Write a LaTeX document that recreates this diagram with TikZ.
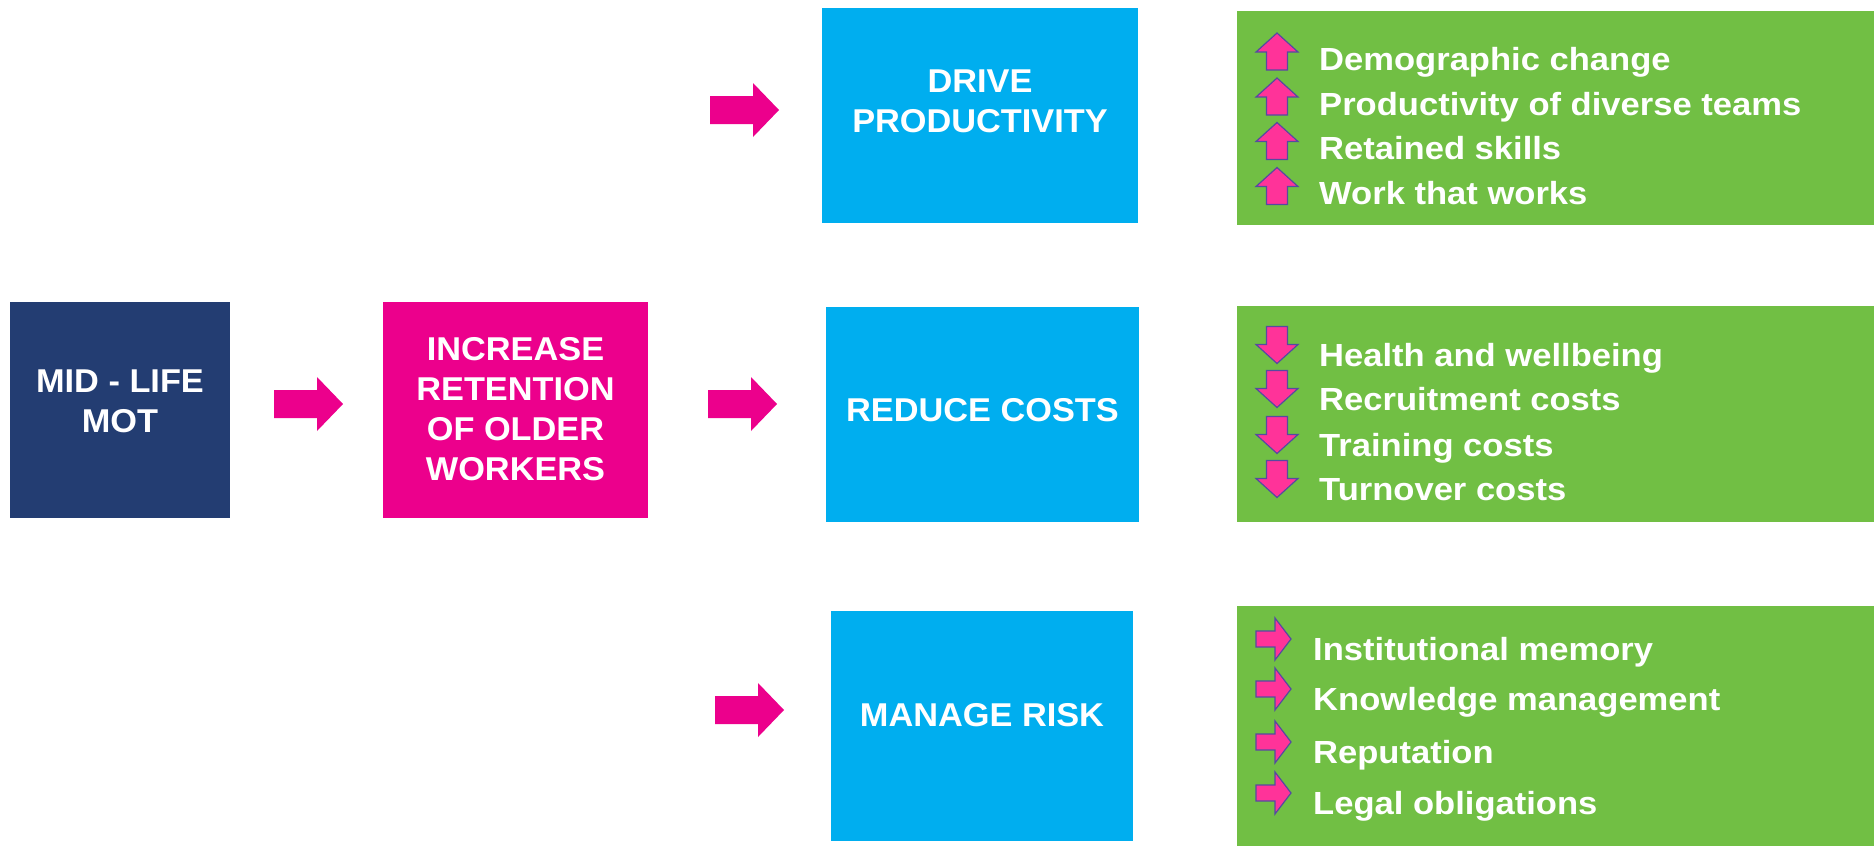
\documentclass[tikz,border=0pt]{standalone}
\usepackage{fontspec}
\setmainfont{Liberation Sans}
\newfontfamily\boxfont{Liberation Sans}[FakeStretch=1.04]
\newfontfamily\listfont{Liberation Sans}[FakeStretch=1.08]
\definecolor{navy}{RGB}{35,61,114}
\definecolor{magenta}{RGB}{236,0,140}
\definecolor{cyanbox}{RGB}{0,174,239}
\definecolor{leaf}{RGB}{113,191,68}
\definecolor{hotpink}{RGB}{255,51,153}
\definecolor{arrowedge}{RGB}{85,75,160}
\tikzset{
  box/.style={rectangle, inner sep=0pt, outer sep=0pt, draw=none},
  boxtext/.style={text=white, align=center, font=\boxfont\bfseries\fontsize{33}{40}\selectfont},
  listtext/.style={text=white, anchor=base west, inner sep=0pt, font=\listfont\bfseries\fontsize{32}{38}\selectfont},
  bigarrow/.style={fill=magenta, draw=none},
  smallarrow/.style={fill=hotpink, draw=arrowedge, line width=1.2pt, line join=miter},
  bigarr/.pic={\path[bigarrow] (0,-14) -- (43,-14) -- (43,-27) -- (69,0) -- (43,27) -- (43,14) -- (0,14) -- cycle;},
  uparr/.pic={\path[smallarrow] (0,-18.5) -- (21,0.5) -- (10.5,0.5) -- (10.5,18.5) -- (-10.5,18.5) -- (-10.5,0.5) -- (-21,0.5) -- cycle;},
  downarr/.pic={\path[smallarrow] (0,18.5) -- (21,-0.5) -- (10.5,-0.5) -- (10.5,-18.5) -- (-10.5,-18.5) -- (-10.5,-0.5) -- (-21,-0.5) -- cycle;},
  rightarr/.pic={\path[smallarrow] (-17.5,-8) -- (1.5,-8) -- (1.5,-21) -- (17.5,0) -- (1.5,21) -- (1.5,8) -- (-17.5,8) -- cycle;},
}
\begin{document}
\begin{tikzpicture}[x=1pt,y=-1pt]
\useasboundingbox[fill=white] (0,0) rectangle (1874,846);

% main chain boxes
\node[box, fill=navy, minimum width=220pt, minimum height=216pt] (mot) at (120,409.5) {};
\node[box, fill=magenta, minimum width=265pt, minimum height=216pt] (retain) at (515.5,409.5) {};
\node[box, fill=cyanbox, minimum width=316pt, minimum height=215pt] (drive) at (980,115.5) {};
\node[box, fill=cyanbox, minimum width=313pt, minimum height=215pt] (reduce) at (982.5,414.5) {};
\node[box, fill=cyanbox, minimum width=302pt, minimum height=230pt] (risk) at (982,726) {};

% box captions (shifts are upward on the page)
\node[boxtext] (motT) at ([yshift=8pt]mot.center) {MID - LIFE\\MOT};
\node[boxtext] (retainT) at (retain.center) {INCREASE\\RETENTION\\OF OLDER\\WORKERS};
\node[boxtext] (driveT) at ([yshift=14pt]drive.center) {DRIVE\\PRODUCTIVITY};
\node[boxtext] (reduceT) at ([yshift=4pt]reduce.center) {REDUCE COSTS};
\node[boxtext] (riskT) at ([yshift=11pt]risk.center) {MANAGE RISK};

% block arrows between the stages
\pic at (274,404) {bigarr};
\pic at (708,404) {bigarr};
\pic at (710,110) {bigarr};
\pic at (715,710) {bigarr};

% outcome panels
\node[box, fill=leaf, minimum width=637pt, minimum height=214pt, anchor=north west] (g1) at (1237,11) {};
\node[box, fill=leaf, minimum width=637pt, minimum height=216pt, anchor=north west] (g2) at (1237,306) {};
\node[box, fill=leaf, minimum width=637pt, minimum height=240pt, anchor=north west] (g3) at (1237,606) {};

% productivity drivers
\pic at (1277,51.5) {uparr};
\pic at (1277,96.5) {uparr};
\pic at (1277,141) {uparr};
\pic at (1277,186) {uparr};
\node[listtext] (p1) at (1319,70) {Demographic change};
\node[listtext] (p2) at (1319,115) {Productivity of diverse teams};
\node[listtext] (p3) at (1319,159) {Retained skills};
\node[listtext] (p4) at (1319,204) {Work that works};

% cost reductions
\pic at (1277,345) {downarr};
\pic at (1277,389) {downarr};
\pic at (1277,435) {downarr};
\pic at (1277,479) {downarr};
\node[listtext] (c1) at (1319,366) {Health and wellbeing};
\node[listtext] (c2) at (1319,410) {Recruitment costs};
\node[listtext] (c3) at (1319,456) {Training costs};
\node[listtext] (c4) at (1319,500) {Turnover costs};

% risks managed
\pic at (1273.5,639) {rightarr};
\pic at (1273.5,689) {rightarr};
\pic at (1273.5,742) {rightarr};
\pic at (1273.5,793) {rightarr};
\node[listtext] (r1) at (1313,660) {Institutional memory};
\node[listtext] (r2) at (1313,710) {Knowledge management};
\node[listtext] (r3) at (1313,763) {Reputation};
\node[listtext] (r4) at (1313,814) {Legal obligations};
\end{tikzpicture}
\end{document}
